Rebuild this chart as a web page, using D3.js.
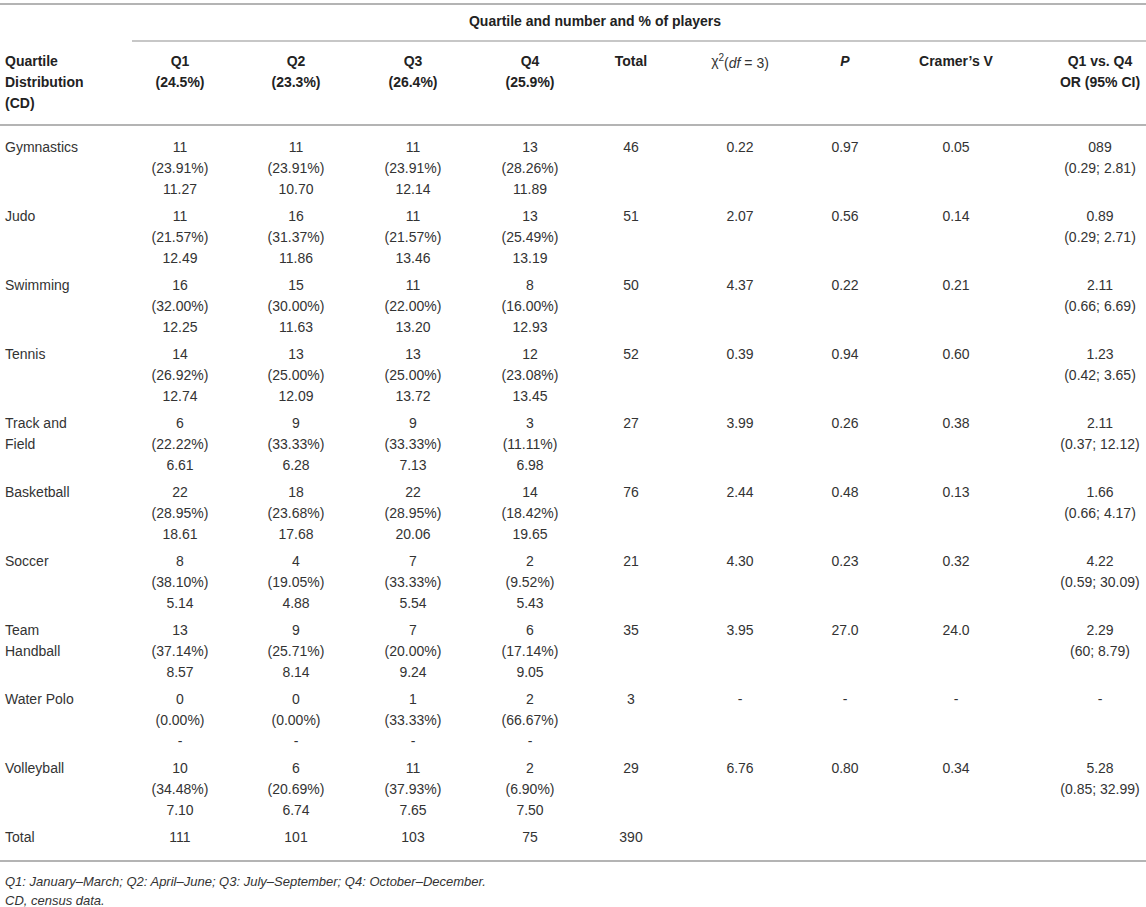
<!DOCTYPE html>
<html>
<head>
<meta charset="utf-8">
<script src="https://cdn.jsdelivr.net/npm/d3@7"></script>
<style>
  body { margin: 0; background: #fff; }
  text { font-family: "Liberation Sans", Arial, sans-serif; }
</style>
</head>
<body>
<div id="table"></div>
<script>
// table values
var sports = ["Gymnastics", "Judo", "Swimming", "Tennis", "Track and|Field", "Basketball",
              "Soccer", "Team|Handball", "Water Polo", "Volleyball"];
var qHeaders = ["Q1", "Q2", "Q3", "Q4"];
var qShares = ["(24.5%)", "(23.3%)", "(26.4%)", "(25.9%)"];

var counts = [
  [11, 11, 11, 13], [11, 16, 11, 13], [16, 15, 11, 8], [14, 13, 13, 12], [6, 9, 9, 3],
  [22, 18, 22, 14], [8, 4, 7, 2], [13, 9, 7, 6], [0, 0, 1, 2], [10, 6, 11, 2]
];
var percents = [
  ["23.91", "23.91", "23.91", "28.26"], ["21.57", "31.37", "21.57", "25.49"],
  ["32.00", "30.00", "22.00", "16.00"], ["26.92", "25.00", "25.00", "23.08"],
  ["22.22", "33.33", "33.33", "11.11"], ["28.95", "23.68", "28.95", "18.42"],
  ["38.10", "19.05", "33.33", "9.52"], ["37.14", "25.71", "20.00", "17.14"],
  ["0.00", "0.00", "33.33", "66.67"], ["34.48", "20.69", "37.93", "6.90"]
];
var expected = [
  ["11.27", "10.70", "12.14", "11.89"], ["12.49", "11.86", "13.46", "13.19"],
  ["12.25", "11.63", "13.20", "12.93"], ["12.74", "12.09", "13.72", "13.45"],
  ["6.61", "6.28", "7.13", "6.98"], ["18.61", "17.68", "20.06", "19.65"],
  ["5.14", "4.88", "5.54", "5.43"], ["8.57", "8.14", "9.24", "9.05"],
  ["-", "-", "-", "-"], ["7.10", "6.74", "7.65", "7.50"]
];
var totals = [46, 51, 50, 52, 27, 76, 21, 35, 3, 29];
var chiSq = ["0.22", "2.07", "4.37", "0.39", "3.99", "2.44", "4.30", "3.95", "-", "6.76"];
var pValues = ["0.97", "0.56", "0.22", "0.94", "0.26", "0.48", "0.23", "27.0", "-", "0.80"];
var cramerV = ["0.05", "0.14", "0.21", "0.60", "0.38", "0.13", "0.32", "24.0", "-", "0.34"];
var oddsRatio = ["089", "0.89", "2.11", "1.23", "2.11", "1.66", "4.22", "2.29", "-", "5.28"];
var oddsCI = ["(0.29; 2.81)", "(0.29; 2.71)", "(0.66; 6.69)", "(0.42; 3.65)", "(0.37; 12.12)",
              "(0.66; 4.17)", "(0.59; 30.09)", "(60; 8.79)", "", "(0.85; 32.99)"];
var columnTotals = [111, 101, 103, 75, 390];
var footnotes = ["Q1: January\u2013March; Q2: April\u2013June; Q3: July\u2013September; Q4: October\u2013December.",
                 "CD, census data."];

var width = 1146, height = 907;
var textColor = "#333", headColor = "#222", ruleColor = "#b4b4b4";
var lineH = 21;

var svg = d3.select("#table").append("svg")
    .attr("width", width)
    .attr("height", height);

var columns = ["Q1", "Q2", "Q3", "Q4", "Total", "chi", "P", "V", "OR"];
var x = d3.scaleOrdinal()
    .domain(columns)
    .range([180, 296, 413, 530, 631, 740, 845, 956, 1100]);

var y = d3.scaleLinear()
    .domain([0, sports.length])
    .range([147, 147 + 69 * sports.length]);

// rules
function rule(x1, x2, yy, w) {
    svg.append("line")
        .attr("x1", x1).attr("x2", x2)
        .attr("y1", yy).attr("y2", yy)
        .style("stroke", ruleColor)
        .style("stroke-width", w);
}
rule(0, width, 4, 2);
rule(132, width, 41, 1.5);
rule(0, width, 125, 2);
rule(0, width, 861, 2);

function cell(cx, cy, str, opts) {
    opts = opts || {};
    return svg.append("text")
        .attr("x", cx)
        .attr("y", cy)
        .attr("dy", "0.35em")
        .attr("text-anchor", opts.anchor || "middle")
        .style("font-size", "14px")
        .style("font-weight", opts.bold ? "bold" : "normal")
        .style("font-style", opts.italic ? "italic" : "normal")
        .style("fill", opts.bold ? headColor : textColor)
        .text(str);
}

// header
cell(595, 21, "Quartile and number and % of players", {bold: true});
["Quartile", "Distribution", "(CD)"].forEach(function (t, i) {
    cell(5, 61 + i * lineH, t, {bold: true, anchor: "start"});
});
qHeaders.forEach(function (q, i) {
    cell(x(q), 61, q, {bold: true});
    cell(x(q), 61 + lineH, qShares[i], {bold: true});
});
cell(x("Total"), 61, "Total", {bold: true});

var chiHead = cell(x("chi"), 61, "", {});
chiHead.append("tspan").text("\u03c7");
chiHead.append("tspan").attr("dy", "-0.45em").style("font-size", "10px").text("2");
chiHead.append("tspan").attr("dy", "0.45em").text("(");
chiHead.append("tspan").style("font-style", "italic").text("df");
chiHead.append("tspan").text(" = 3)");

cell(x("P"), 61, "P", {bold: true, italic: true});
cell(x("V"), 61, "Cramer\u2019s V", {bold: true});
cell(x("OR"), 61, "Q1 vs. Q4", {bold: true});
cell(x("OR"), 61 + lineH, "OR (95% CI)", {bold: true});

// body rows
sports.forEach(function (s, i) {
    var y0 = y(i);
    s.split("|").forEach(function (part, k) {
        cell(5, y0 + k * lineH, part, {anchor: "start"});
    });
    qHeaders.forEach(function (q, j) {
        cell(x(q), y0, counts[i][j]);
        cell(x(q), y0 + lineH, "(" + percents[i][j] + "%)");
        cell(x(q), y0 + 2 * lineH, expected[i][j]);
    });
    cell(x("Total"), y0, totals[i]);
    cell(x("chi"), y0, chiSq[i]);
    cell(x("P"), y0, pValues[i]);
    cell(x("V"), y0, cramerV[i]);
    cell(x("OR"), y0, oddsRatio[i]);
    if (oddsCI[i]) cell(x("OR"), y0 + lineH, oddsCI[i]);
});

// totals row
var yT = y(sports.length);
cell(5, yT, "Total", {anchor: "start"});
["Q1", "Q2", "Q3", "Q4", "Total"].forEach(function (c, j) {
    cell(x(c), yT, columnTotals[j]);
});

// footnotes
footnotes.forEach(function (f, i) {
    cell(5, 881 + i * 19, f, {anchor: "start", italic: true}).style("font-size", "13px");
});
</script>
</body>
</html>
